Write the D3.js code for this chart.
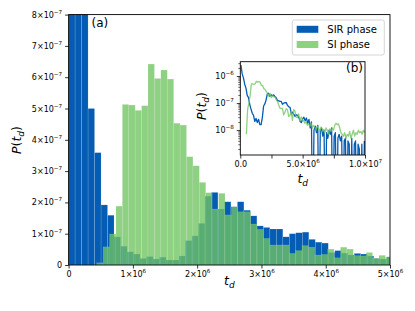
<!DOCTYPE html>
<html><head><meta charset="utf-8">
<script src="https://cdn.jsdelivr.net/npm/d3@7"></script>
<style>body{margin:0;background:#fff} svg{display:block} text{font-family:"DejaVu Sans",sans-serif;fill:#000}</style>
</head><body><svg id="c" width="415" height="311"></svg>
<script>
// ---------------- data ----------------
const seriesNames = ["SIR phase", "SI phase"];
// histogram bin layout (t_d units)
const sirStart = 0, sirWidth = 1.01e5;
const siStart = 4.37e5, siWidth = 0.998e5;
// P(t_d) per bin, in units of 1e-7
const sirValues = [25.6, 12, 8.6, 5.0, 3.59, 1.92, 1.59, 0.9, 0.6, 0.42,
  0.35, 0.21, 0.27, 0.19, 0.25, 0.16, 0.16, 0.29, 0.78, 0.93,
  1.33, 2.2, 2.32, 1.79, 2.02, 1.86, 2.02, 1.75, 1.57, 1.25,
  1.2, 1.15, 1.15, 0.9, 1.0, 1.03, 1.05, 0.82, 0.73, 0.7,
  0.4, 0.46, 0.38, 0.32, 0.37, 0.35, 0.29, 0.21, 0.19, 0.26,
  0.3, 0.22, 0.28, 0.18, 0.25, 0.12, 0.2, 0, 0.1, 0.14,
  0.08, 0.15, 0, 0.09, 0.12, 0.06, 0.1, 0, 0.08, 0.05,
  0.1, 0.07, 0.12, 0, 0.06, 0.08, 0, 0.05, 0.07, 0.04,
  0.06, 0, 0.04, 0.05, 0, 0.04, 0.03, 0, 0.05, 0,
  0.03, 0.04, 0, 0.03, 0.02, 0, 0.03, 0, 0.04];
const siValues = [0.07, 0.58, 0.99, 1.88, 5.13, 5.11, 4.94, 5.09, 6.42, 5.96,
  6.23, 5.94, 4.53, 4.47, 3.46, 3.17, 2.64, 2.31, 1.79, 2.29,
  1.6, 1.86, 1.7, 1.7, 1.31, 1.14, 0.85, 0.64, 0.64, 0.64,
  0.37, 0.46, 0.62, 0.57, 0.32, 0.34, 0.51, 0.23, 0.57, 0.51,
  0.3, 0.29, 0.4, 0.21, 0.31, 0.25, 0.22, 0.18, 0.2, 0.15,
  0.17, 0.14, 0.18, 0.12, 0.15, 0.13, 0.1, 0.14, 0.12, 0.09,
  0.13, 0.11, 0.1, 0.08, 0.12, 0.1, 0.07, 0.11, 0.09, 0.12,
  0.1, 0.15, 0.18, 0.16, 0.17, 0.12, 0.08, 0.07, 0.06, 0.08,
  0.05, 0.07, 0.06, 0.09, 0.05, 0.07, 0.1, 0.06, 0.08, 0.07,
  0.1, 0.08, 0.09, 0.07, 0.1, 0.08];
// ticks
const mainXTicks = [0, 1e6, 2e6, 3e6, 4e6, 5e6];
const mainXLabels = ["0", "1×10^6", "2×10^6", "3×10^6", "4×10^6", "5×10^6"];
const mainYTicks = [0, 1e-7, 2e-7, 3e-7, 4e-7, 5e-7, 6e-7, 7e-7, 8e-7];
const mainYLabels = ["0", "1×10^−7", "2×10^−7", "3×10^−7", "4×10^−7", "5×10^−7", "6×10^−7", "7×10^−7", "8×10^−7"];
const insetXTicks = [0, 2.5e6, 5e6, 7.5e6, 1e7];
const insetXLabels = ["0.0", "", "5.0×10^6", "", "1.0×10^7"];
const insetYTicks = [1e-6, 1e-7, 1e-8];
const insetYLabels = ["10^−6", "10^−7", "10^−8"];

// ---------------- styling ----------------
const blue = "#045cb4";
const green = "rgb(112,196,96)";
const greenOpacity = 0.78;

const svg = d3.select("#c");
const M = {l: 68.6, r: 390, t: 14.6, b: 265};
const I = {l: 240.3, r: 365, t: 61.7, b: 155};

const xM = d3.scaleLinear([0, 5e6], [M.l, M.r]);
const yM = d3.scaleLinear([0, 8e-7], [M.b, M.t]);
const xI = d3.scaleLinear([0, 1e7], [I.l, I.r]);
const yI = d3.scaleLog([1.2e-9, 3.4e-6], [I.b, I.t]);

const defs = svg.append("defs");
defs.append("clipPath").attr("id", "cm").append("rect")
  .attr("x", M.l).attr("y", M.t).attr("width", M.r - M.l).attr("height", M.b - M.t);
defs.append("clipPath").attr("id", "ci").append("rect")
  .attr("x", I.l).attr("y", I.t).attr("width", I.r - I.l).attr("height", I.b - I.t);

function bins(vals, start, w) {
  return vals.map((v, i) => ({x0: start + i * w, x1: start + (i + 1) * w, v: v * 1e-7}));
}
const sirBins = bins(sirValues, sirStart, sirWidth);
const siBins = bins(siValues, siStart, siWidth);

const gm = svg.append("g").attr("clip-path", "url(#cm)");
gm.selectAll("rect.sir").data(sirBins).join("rect").attr("class", "sir")
  .attr("x", d => xM(d.x0)).attr("width", d => xM(d.x1) - xM(d.x0))
  .attr("y", d => yM(d.v)).attr("height", d => yM(0) - yM(d.v))
  .attr("fill", blue).attr("stroke", "rgba(255,255,255,0.25)").attr("stroke-width", 0.5);
gm.selectAll("rect.si").data(siBins).join("rect").attr("class", "si")
  .attr("x", d => xM(d.x0)).attr("width", d => xM(d.x1) - xM(d.x0))
  .attr("y", d => yM(d.v)).attr("height", d => yM(0) - yM(d.v))
  .attr("fill", green).attr("fill-opacity", greenOpacity)
  .attr("stroke", "rgba(255,255,255,0.2)").attr("stroke-width", 0.5);

function supLabel(sel, labels, supSize, dy) {
  sel.selectAll(".tick text").each(function(d, i) {
    const t = d3.select(this); const s = labels[i]; t.text(null);
    const parts = s.split("^");
    t.append("tspan").text(parts[0]);
    if (parts[1]) t.append("tspan").attr("font-size", supSize).attr("dy", dy).text(parts[1]);
  });
}

// main axes
const axXM = svg.append("g").attr("transform", `translate(0,${M.b})`)
  .call(d3.axisBottom(xM).tickValues(mainXTicks).tickSize(3.5).tickPadding(3).tickSizeOuter(0));
supLabel(axXM, mainXLabels, 5.6, -4);
const axYM = svg.append("g").attr("transform", `translate(${M.l},0)`)
  .call(d3.axisLeft(yM).tickValues(mainYTicks).tickSize(3.5).tickPadding(3).tickSizeOuter(0));
supLabel(axYM, mainYLabels, 5.6, -4);
[axXM, axYM].forEach(a => { a.selectAll("text").attr("font-size", 8).attr("font-family", "DejaVu Sans");
  a.select(".domain").remove(); a.selectAll("line").attr("stroke", "#000").attr("stroke-width", 0.8); });
svg.append("rect").attr("x", M.l).attr("y", M.t).attr("width", M.r - M.l).attr("height", M.b - M.t)
  .attr("fill", "none").attr("stroke", "#000").attr("stroke-width", 0.9);

svg.append("text").attr("x", 91.5).attr("y", 26.5).attr("font-size", 12).text("(a)");

// axis titles
function tdLabel(g, withP) {
  const t = g.append("text").attr("font-size", 12.5);
  if (withP) {
    t.append("tspan").attr("font-style", "italic").text("P");
    t.append("tspan").text("(");
  }
  t.append("tspan").attr("font-style", "italic").text("t");
  t.append("tspan").attr("font-style", "italic").attr("font-size", 9).attr("dy", 3).text("d");
  if (withP) t.append("tspan").attr("dy", -3).text(")");
  return t;
}
tdLabel(svg, true).attr("text-anchor", "middle").attr("transform", "translate(21,140) rotate(-90)");
tdLabel(svg, false).attr("text-anchor", "middle").attr("x", 229.3).attr("y", 285);

// legend
const lg = svg.append("g");
lg.append("rect").attr("x", 292.3).attr("y", 20).attr("width", 92).attr("height", 35).attr("rx", 2)
  .attr("fill", "#fff").attr("fill-opacity", 0.8).attr("stroke", "#cccccc").attr("stroke-width", 0.8);
lg.append("rect").attr("x", 296.7).attr("y", 25.8).attr("width", 21.6).attr("height", 7).attr("fill", blue);
lg.append("rect").attr("x", 296.7).attr("y", 41).attr("width", 21.6).attr("height", 7)
  .attr("fill", green).attr("fill-opacity", greenOpacity);
lg.append("text").attr("x", 327.3).attr("y", 32.6).attr("font-size", 10).text(seriesNames[0]);
lg.append("text").attr("x", 327.3).attr("y", 47.8).attr("font-size", 10).text(seriesNames[1]);

// inset
svg.append("rect").attr("x", I.l).attr("y", I.t).attr("width", I.r - I.l).attr("height", I.b - I.t).attr("fill", "#fff");
const floor = 1e-12;
const line = d3.line().x(d => xI((d.x0 + d.x1) / 2)).y(d => yI(Math.max(d.v, floor)));
const gi = svg.append("g").attr("clip-path", "url(#ci)");
gi.append("path").datum(sirBins).attr("d", line).attr("fill", "none").attr("stroke", blue).attr("stroke-width", 1.3).attr("stroke-linejoin", "round");
gi.append("path").datum(siBins).attr("d", line).attr("fill", "none").attr("stroke", green).attr("stroke-opacity", greenOpacity).attr("stroke-width", 1.3).attr("stroke-linejoin", "round");

const axXI = svg.append("g").attr("transform", `translate(0,${I.b})`)
  .call(d3.axisBottom(xI).tickValues(insetXTicks).tickSize(3.5).tickPadding(3).tickSizeOuter(0));
supLabel(axXI, insetXLabels, 5.6, -4);
const minorY = [];
for (let e = -9; e <= -6; e++) for (let m = 2; m <= 9; m++) { const v = m * Math.pow(10, e); if (v > 1.2e-9 && v < 3.4e-6) minorY.push(v); }
svg.append("g").attr("transform", `translate(${I.l},0)`)
  .call(d3.axisLeft(yI).tickValues(minorY).tickSize(2).tickFormat("").tickSizeOuter(0))
  .call(a => { a.select(".domain").remove(); a.selectAll("line").attr("stroke", "#000").attr("stroke-width", 0.6); });
const axYI = svg.append("g").attr("transform", `translate(${I.l},0)`)
  .call(d3.axisLeft(yI).tickValues(insetYTicks).tickSize(3.5).tickPadding(3).tickSizeOuter(0));
supLabel(axYI, insetYLabels, 5.6, -4);
[axXI, axYI].forEach(a => { a.selectAll("text").attr("font-size", 8).attr("font-family", "DejaVu Sans");
  a.select(".domain").remove(); a.selectAll("line").attr("stroke", "#000").attr("stroke-width", 0.8); });
svg.append("rect").attr("x", I.l).attr("y", I.t).attr("width", I.r - I.l).attr("height", I.b - I.t)
  .attr("fill", "none").attr("stroke", "#000").attr("stroke-width", 0.9);
svg.append("text").attr("x", 346).attr("y", 72).attr("font-size", 12).text("(b)");
tdLabel(svg, true).attr("text-anchor", "middle").attr("transform", "translate(206,106) rotate(-90)");
tdLabel(svg, false).attr("text-anchor", "middle").attr("x", 302.7).attr("y", 183);
</script></body></html>
